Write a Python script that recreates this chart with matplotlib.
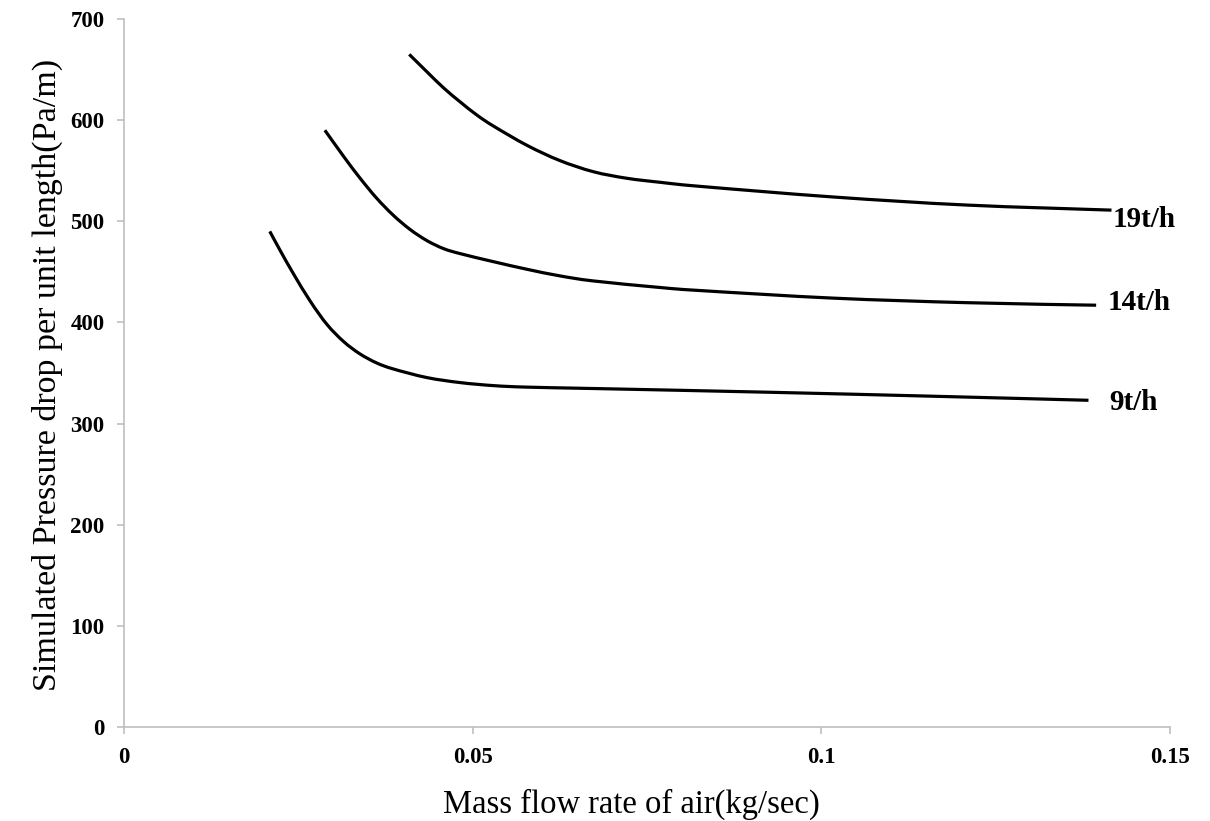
import matplotlib
matplotlib.use("Agg")
import matplotlib.pyplot as plt
from matplotlib.path import Path
from matplotlib.patches import PathPatch

plt.rcParams['font.family'] = ['Liberation Serif', 'DejaVu Serif']

# Data
x_9 = [0.0209, 0.0224, 0.0243, 0.0267, 0.0291, 0.0315, 0.0338, 0.0362, 0.0386, 0.0434,
       0.0482, 0.0530, 0.0578, 0.0683, 0.0922, 0.1161, 0.1383]
y_9 = [490, 471, 448, 421, 398, 381, 369, 360, 354, 345.5, 340.5, 337.5, 336, 334.5, 331, 327, 323]

x_14 = [0.0288, 0.0315, 0.0338, 0.0362, 0.0386, 0.0410, 0.0434, 0.0458, 0.0482, 0.0530,
        0.0578, 0.0625, 0.0673, 0.0769, 0.0826, 0.1017, 0.1209, 0.1394]
y_14 = [590, 564, 543, 523, 506, 492, 481, 473, 468, 460, 452.5, 446, 441, 434.5, 431.5, 424, 419.5, 417]

x_19 = [0.0409, 0.0434, 0.0458, 0.0482, 0.0506, 0.0530, 0.0578, 0.0625, 0.0673, 0.0721,
        0.0769, 0.0826, 0.1017, 0.1209, 0.1416]
y_19 = [665, 648, 632, 618, 605, 594, 575, 560, 549, 542.5, 538.5, 534.5, 524, 516, 511]

series_labels = ["9t/h", "14t/h", "19t/h"]
x_ticks = [0, 0.05, 0.1, 0.15]
x_tick_labels = ["0", "0.05", "0.1", "0.15"]
y_ticks = [0, 100, 200, 300, 400, 500, 600, 700]

# label offsets (points) from each line's end
label_offsets = [(15, -1.5), (8.5, 2), (1, -6.5)]


def smooth_path(xs, ys):
    """Smoothed line through the data points (like a spreadsheet's smoothed line)."""
    verts = [(xs[0], ys[0])]
    codes = [Path.MOVETO]
    n = len(xs)
    for i in range(n - 1):
        x0, y0 = (xs[i - 1], ys[i - 1]) if i > 0 else (xs[i], ys[i])
        x1, y1 = xs[i], ys[i]
        x2, y2 = xs[i + 1], ys[i + 1]
        x3, y3 = (xs[i + 2], ys[i + 2]) if i + 2 < n else (x2, y2)
        c1 = (x1 + (x2 - x0) / 6.0, y1 + (y2 - y0) / 6.0)
        c2 = (x2 - (x3 - x1) / 6.0, y2 - (y3 - y1) / 6.0)
        verts += [c1, c2, (x2, y2)]
        codes += [Path.CURVE4] * 3
    return Path(verts, codes)


fig = plt.figure(figsize=(12.10, 8.21), dpi=100)
ax = fig.add_axes([0.1025, 0.1145, 0.8645, 0.8624])

for xs, ys, lab, off in zip([x_9, x_14, x_19], [y_9, y_14, y_19], series_labels, label_offsets):
    patch = PathPatch(smooth_path(xs, ys), facecolor='none', edgecolor='black',
                      lw=2.3, capstyle='butt', joinstyle='round')
    ax.add_patch(patch)
    ax.annotate(lab, xy=(xs[-1], ys[-1]), xytext=off, textcoords='offset points',
                ha='left', va='center', fontsize=21, fontweight='bold')

ax.set_xlim(0, 0.15)
ax.set_ylim(0, 700)
ax.set_xticks(x_ticks)
ax.set_xticklabels(x_tick_labels)
ax.set_yticks(y_ticks)

for s in ['top', 'right']:
    ax.spines[s].set_visible(False)
for s in ['left', 'bottom']:
    ax.spines[s].set_color('#bfbfbf')
    ax.spines[s].set_linewidth(1.2)

ax.tick_params(axis='both', colors='#bfbfbf', length=5, width=1.2, direction='out')
for t in ax.get_xticklabels() + ax.get_yticklabels():
    t.set_color('black')
    t.set_fontweight('bold')
    t.set_fontsize(16.5)
ax.tick_params(axis='x', pad=9.5)
ax.tick_params(axis='y', pad=9)

ax.set_xlabel('Mass flow rate of air(kg/sec)', fontsize=23.5)
ax.xaxis.label.set_va('baseline')
ax.xaxis.set_label_coords(0.4847, -0.1215)
ax.set_ylabel('Simulated Pressure drop per unit length(Pa/m)', fontsize=24.5)
ax.yaxis.set_label_coords(-0.0583, 0.497)

fig.savefig('out.png', dpi=100, facecolor='white')
